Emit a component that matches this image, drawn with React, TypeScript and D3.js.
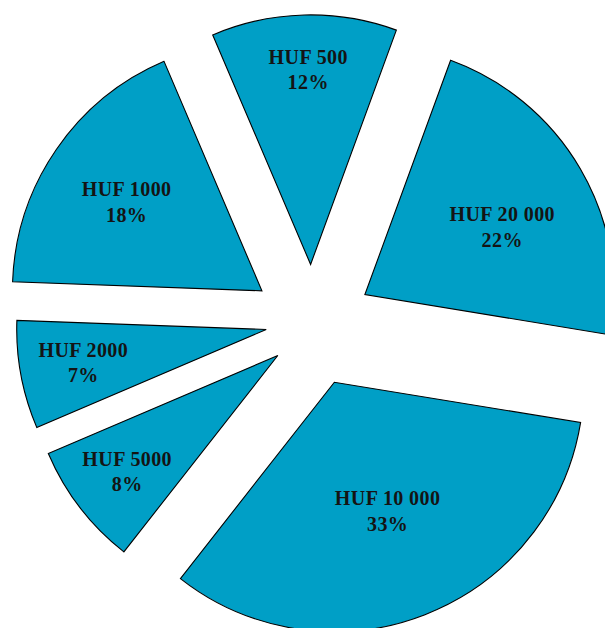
import React from "react";
import * as d3 from "d3";

// ---- data ----
const categories = ["HUF 500", "HUF 20 000", "HUF 10 000", "HUF 5000", "HUF 2000", "HUF 1000"];
const shares = [12, 22, 33, 8, 7, 18];
const shareLabels = ["12%", "22%", "33%", "8%", "7%", "18%"];

// ---- style / layout ----
const W = 605;
const H = 628;
const CX = 312.2;
const CY = 325.4;
const RADIUS = 249.5;
const EXPLODE = 61;
const START_DEG = -23.1;
const FILL = "#009fc6";
// extra nudge applied to some exploded slices (pixels)
const extraShift: [number, number][] = [[0, 0], [0, 0], [0, 0], [14, -7], [14, -7], [0, 0]];
// label distance from slice apex, as fraction of radius
const labelRadiusFrac = [0.78, 0.613, 0.56, 0.763, 0.745, 0.648];
// label angle offset from slice bisector (degrees)
const labelAngleShift = [0.8, 4.2, -1.1, -0.2, 0.2, -1.3];

const rad = (d: number) => (d * Math.PI) / 180;

export default function App() {
  const start = rad(START_DEG);
  const pie = d3
    .pie<number>()
    .sort(null)
    .value((d) => d)
    .startAngle(start)
    .endAngle(start + 2 * Math.PI);
  const arcs = pie(shares);
  const arcGen = d3.arc<d3.PieArcDatum<number>>().innerRadius(0).outerRadius(RADIUS);

  return (
    <svg
      width={W}
      height={H}
      style={{ position: "absolute", left: 0, top: 0, background: "#fff" }}
    >
      {arcs.map((a, i) => {
        const mid = (a.startAngle + a.endAngle) / 2;
        const tx = CX + EXPLODE * Math.sin(mid) + extraShift[i][0];
        const ty = CY - EXPLODE * Math.cos(mid) + extraShift[i][1];
        return (
          <path
            key={categories[i]}
            d={arcGen(a) || ""}
            transform={`translate(${tx},${ty})`}
            fill={FILL}
            stroke="#000"
            strokeWidth={1.1}
            strokeLinejoin="miter"
          />
        );
      })}
      {arcs.map((a, i) => {
        const mid = (a.startAngle + a.endAngle) / 2;
        const tx = CX + EXPLODE * Math.sin(mid) + extraShift[i][0];
        const ty = CY - EXPLODE * Math.cos(mid) + extraShift[i][1];
        const la = mid + rad(labelAngleShift[i]);
        const lr = labelRadiusFrac[i] * RADIUS;
        const lx = tx + lr * Math.sin(la);
        const ly = ty - lr * Math.cos(la);
        return (
          <text
            key={"t" + categories[i]}
            x={lx}
            y={ly - 6}
            textAnchor="middle"
            fontFamily="'Liberation Serif', 'Times New Roman', serif"
            fontWeight="bold"
            fontSize={20}
            letterSpacing={0.4}
            fill="#141414"
          >
            <tspan x={lx} y={ly - 6}>{categories[i]}</tspan>
            <tspan x={lx} y={ly + 19.5}>{shareLabels[i]}</tspan>
          </text>
        );
      })}
    </svg>
  );
}
